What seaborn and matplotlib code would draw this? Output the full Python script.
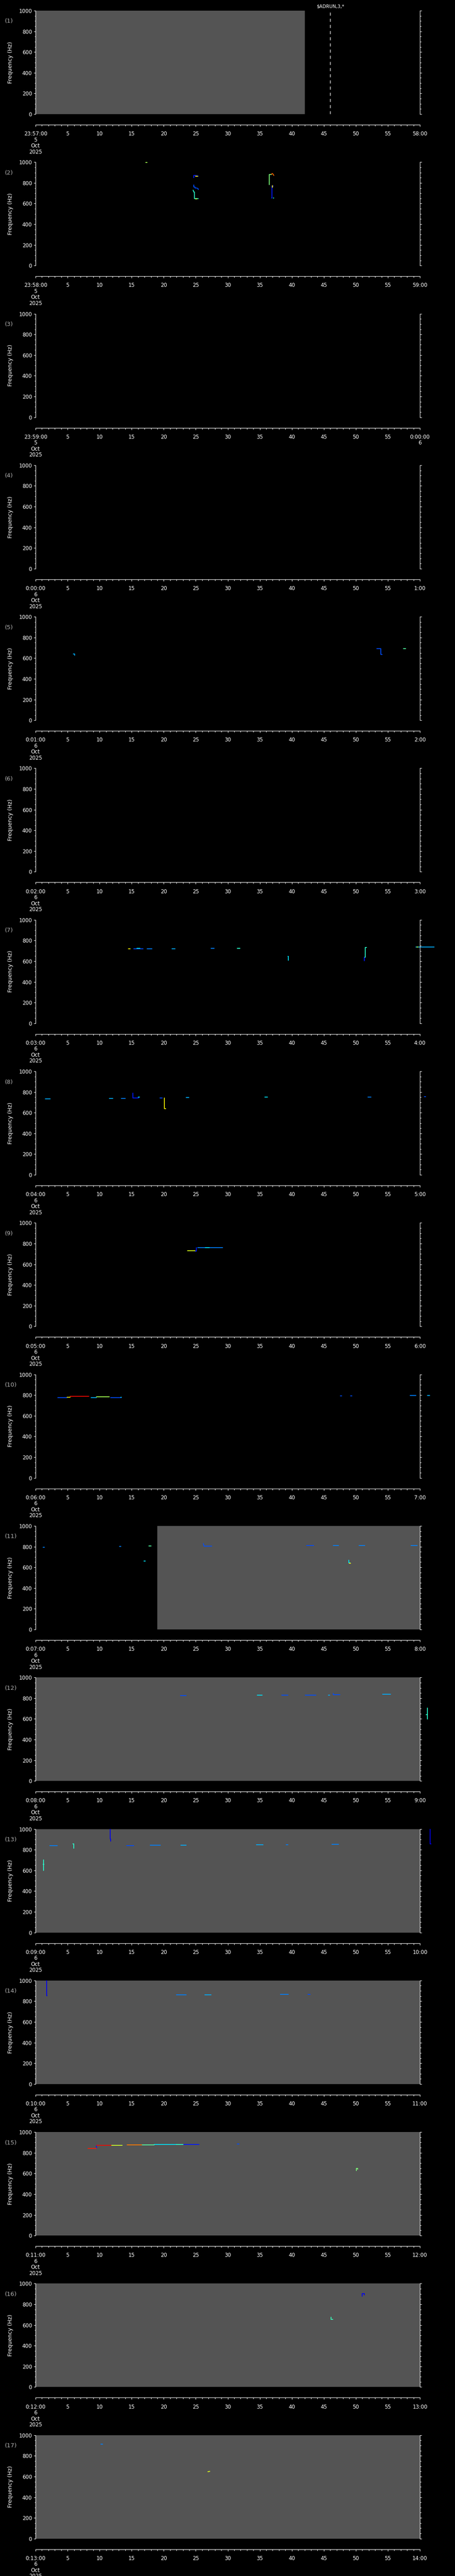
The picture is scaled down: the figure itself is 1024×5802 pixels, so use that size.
import numpy as np
import pandas as pd
import seaborn as sns
import matplotlib
matplotlib.use('Agg')
import matplotlib.pyplot as plt
from matplotlib.ticker import MultipleLocator

W, H = 1024, 5802
N_PANELS = 17
GRAY = '#545454'
PX = 72 / 100  # points per pixel at dpi 100

# x tick labels at the start / end of each one-minute panel
start_labels = ["23:57:00\n5\nOct\n2025", "23:58:00\n5\nOct\n2025", "23:59:00\n5\nOct\n2025",
                "0:00:00\n6\nOct\n2025", "0:01:00\n6\nOct\n2025", "0:02:00\n6\nOct\n2025",
                "0:03:00\n6\nOct\n2025", "0:04:00\n6\nOct\n2025", "0:05:00\n6\nOct\n2025",
                "0:06:00\n6\nOct\n2025", "0:07:00\n6\nOct\n2025", "0:08:00\n6\nOct\n2025",
                "0:09:00\n6\nOct\n2025", "0:10:00\n6\nOct\n2025", "0:11:00\n6\nOct\n2025",
                "0:12:00\n6\nOct\n2025", "0:13:00\n6\nOct\n2025"]
end_labels = ["58:00", "59:00", "0:00:00\n6", "1:00", "2:00", "3:00", "4:00", "5:00", "6:00",
              "7:00", "8:00", "9:00", "10:00", "11:00", "12:00", "13:00", "14:00"]

# no-data (gray) spans in seconds, per panel
gray_spans = {1: [(0, 42)], 11: [(19, 60)], 12: [(0, 60)], 13: [(0, 60)],
              14: [(0, 60)], 15: [(0, 60)], 16: [(0, 60)], 17: [(0, 60)]}

# event markers (seconds, label)
events = {1: [(46.0, r"\$ADRUN,3,*")]}

# detected tone traces: (seconds, frequency Hz, intensity 0..1)
traces_02 = [
    ([17.2, 17.4], [996, 996], 0.55),
    ([24.7, 24.7, 24.9, 25.4], [850, 872, 872, 865], 0.15),
    ([25.0, 25.3], [862, 862], 0.65),
    ([24.7, 24.7, 24.9, 24.9, 25.2, 25.4, 25.4], [780, 760, 760, 750, 750, 742, 735], 0.2),
    ([24.6, 24.7, 24.8, 24.8, 25.4], [730, 712, 712, 648, 648], 0.4),
    ([25.0, 25.2], [646, 646], 0.6),
    ([36.5, 36.5, 36.8], [782, 880, 880], 0.5),
    ([36.8, 37.0, 37.2], [885, 890, 872], 0.8),
    ([36.8, 36.9, 36.9, 37.1], [655, 655, 770, 770], 0.15),
    ([37.0, 37.0], [775, 755], 0.65),
    ([37.1, 37.2], [655, 655], 0.4),
]
traces_05 = [
    ([5.9, 6.1, 6.1], [642, 642, 628], 0.3),
    ([53.3, 53.9, 53.9, 54.1], [690, 690, 638, 638], 0.2),
    ([57.4, 57.8], [690, 690], 0.45),
]
traces_07 = [
    ([14.5, 14.8], [722, 722], 0.65),
    ([15.3, 16.8], [722, 722], 0.2),
    ([15.8, 16.3], [723, 723], 0.35),
    ([17.4, 18.2], [722, 722], 0.25),
    ([21.3, 21.8], [722, 722], 0.3),
    ([27.4, 27.9], [723, 723], 0.25),
    ([31.5, 31.9], [726, 726], 0.4),
    ([39.4, 39.5, 39.5], [645, 645, 610], 0.35),
    ([51.3, 51.3], [602, 640], 0.15),
    ([51.4, 51.5, 51.5, 51.7], [640, 640, 731, 731], 0.4),
    ([59.4, 62.2], [737, 737], 0.3),
    ([59.5, 59.7], [737, 737], 0.55),
]
traces_08 = [
    ([1.5, 2.3], [734, 734], 0.3),
    ([11.5, 12.1], [740, 740], 0.3),
    ([13.4, 14.0], [740, 740], 0.25),
    ([15.2, 15.2, 16.1], [789, 743, 743], 0.15),
    ([16.0, 16.2], [751, 751], 0.35),
    ([19.4, 19.8], [743, 743], 0.2),
    ([20.1, 20.1, 20.3], [743, 641, 641], 0.65),
    ([23.5, 23.9], [746, 746], 0.3),
    ([35.8, 36.2], [751, 751], 0.35),
    ([51.9, 52.4], [751, 751], 0.25),
    ([60.7, 60.9], [757, 757], 0.2),
]
traces_09 = [
    ([23.7, 24.9], [730, 730], 0.62),
    ([24.9, 25.1, 25.1], [728, 728, 762], 0.15),
    ([25.3, 29.2], [762, 762], 0.25),
    ([26.5, 27.1], [762, 762], 0.35),
]
traces_10 = [
    ([3.5, 4.9], [777, 777], 0.2),
    ([4.9, 5.4], [780, 780], 0.65),
    ([5.4, 8.3], [788, 788], 0.9),
    ([8.7, 9.5], [777, 777], 0.3),
    ([9.5, 11.5], [782, 782], 0.55),
    ([11.7, 13.4], [777, 777], 0.2),
    ([13.3, 13.4], [781, 781], 0.35),
    ([47.6, 47.8], [791, 791], 0.2),
    ([49.2, 49.4], [791, 791], 0.2),
    ([58.5, 59.4], [796, 796], 0.25),
    ([61.2, 61.5], [796, 796], 0.3),
]
traces_11 = [
    ([1.2, 1.4], [795, 795], 0.25),
    ([13.1, 13.3], [801, 801], 0.25),
    ([17.7, 18.0], [805, 805], 0.45),
    ([16.9, 17.1], [662, 662], 0.35),
    ([26.2, 26.3, 27.5], [830, 805, 805], 0.2),
    ([42.3, 43.4], [809, 809], 0.2),
    ([46.5, 47.3], [811, 811], 0.25),
    ([50.5, 51.4], [812, 812], 0.25),
    ([58.6, 59.6], [812, 812], 0.25),
    ([48.9, 48.9, 49.1], [670, 645, 645], 0.35),
    ([49.0, 49.2], [638, 638], 0.65),
]
traces_12 = [
    ([22.6, 23.5], [826, 826], 0.2),
    ([34.6, 35.4], [829, 829], 0.35),
    ([38.4, 39.4], [831, 831], 0.2),
    ([42.1, 43.8], [831, 831], 0.2),
    ([45.7, 45.9], [831, 831], 0.3),
    ([46.5, 46.5, 47.5], [846, 833, 833], 0.2),
    ([54.2, 55.4], [837, 837], 0.3),
    ([61.2, 61.2], [705, 597], 0.4),
    ([61.0, 61.2], [640, 640], 0.4),
]
traces_13 = [
    ([1.25, 1.25], [702, 598], 0.4),
    ([1.2, 1.35], [660, 660], 0.4),
    ([2.2, 3.4], [839, 839], 0.25),
    ([5.85, 5.95, 5.95], [856, 856, 812], 0.4),
    ([11.65, 11.65, 11.75, 11.75], [1000, 905, 905, 882], 0.1),
    ([14.2, 15.3], [841, 841], 0.2),
    ([17.9, 19.5], [844, 844], 0.25),
    ([22.7, 23.5], [844, 844], 0.3),
    ([34.5, 35.5], [847, 847], 0.3),
    ([39.1, 39.4], [847, 847], 0.25),
    ([46.3, 47.3], [853, 853], 0.25),
    ([61.6, 61.6, 61.7], [1000, 858, 858], 0.1),
]
traces_14 = [
    ([1.7, 1.7, 1.8], [1000, 855, 855], 0.1),
    ([22.0, 23.5], [861, 861], 0.25),
    ([26.4, 27.4], [861, 861], 0.3),
    ([38.2, 39.5], [866, 866], 0.25),
    ([42.5, 42.9], [866, 866], 0.2),
]
traces_15 = [
    ([8.2, 9.5], [842, 842], 0.88),
    ([9.5, 9.5], [842, 873], 0.15),
    ([9.5, 11.8], [873, 873], 0.9),
    ([11.8, 13.5], [873, 873], 0.6),
    ([14.3, 16.6], [877, 877], 0.78),
    ([16.6, 18.5], [877, 877], 0.45),
    ([18.5, 22.0], [879, 879], 0.35),
    ([22.0, 23.0], [881, 881], 0.4),
    ([23.0, 25.5], [879, 879], 0.15),
    ([31.5, 31.8], [885, 885], 0.2),
    ([50.1, 50.1, 50.3, 50.3], [625, 648, 648, 640], 0.5),
]
traces_16 = [
    ([51.0, 51.0, 51.3, 51.3], [876, 901, 901, 890], 0.1),
    ([46.1, 46.1, 46.4], [676, 654, 654], 0.42),
]
traces_17 = [
    ([10.2, 10.5], [913, 913], 0.25),
    ([26.9, 27.2], [646, 650], 0.62),
]

panel_traces = {2: traces_02, 5: traces_05, 7: traces_07, 8: traces_08, 9: traces_09,
                10: traces_10, 11: traces_11, 12: traces_12, 13: traces_13, 14: traces_14,
                15: traces_15, 16: traces_16, 17: traces_17}

rows = []
for p, traces in panel_traces.items():
    for k, (ts, fs, lev) in enumerate(traces):
        for t, f in zip(ts, fs):
            rows.append((p, f'{p}-{k}', t, f, lev))
df = pd.DataFrame(rows, columns=['panel', 'trace', 't', 'f', 'level'])

sns.set_theme(style='ticks', rc={'axes.facecolor': 'black', 'figure.facecolor': 'black',
                                 'axes.edgecolor': 'white', 'xtick.color': 'white',
                                 'ytick.color': 'white', 'text.color': 'white',
                                 'axes.labelcolor': 'white', 'lines.scale_dashes': False})
plt.rcParams['font.family'] = ['DejaVu Sans']

jet = matplotlib.colormaps['jet']
fig = plt.figure(figsize=(W / 100, H / 100), dpi=100)

for i in range(N_PANELS):
    p = i + 1
    top = i * H / N_PANELS
    ax = fig.add_axes([80 / W, 1 - (top + 257) / H, 865 / W, 233 / H])
    ax.set_facecolor('black')

    for a, b in gray_spans.get(p, []):
        ax.axvspan(a, b, color=GRAY, lw=0, zorder=0)

    sub = df[df['panel'] == p]
    if len(sub):
        sns.lineplot(data=sub, x='t', y='f', hue='level', palette=jet, hue_norm=(0, 1),
                     units='trace', estimator=None, sort=False, legend=False, lw=1.3, ax=ax)
        for ln in ax.lines:
            ln.set_clip_on(False)

    for t, lab in events.get(p, []):
        ax.axvline(t, color='white', lw=0.9, ls=(0, (5, 5)))
        ax.annotate(lab, xy=(t, 1000), xytext=(0, 3), textcoords='offset points',
                    ha='center', va='bottom', fontsize=7.5, color='white', annotation_clip=False)

    ax.set_xlim(0, 60)
    ax.set_ylim(0, 1000)

    ax.spines['top'].set_visible(False)
    ax.spines['bottom'].set_position(('outward', 24 * PX))
    for s in ['left', 'right', 'bottom']:
        ax.spines[s].set_color('white')
        ax.spines[s].set_linewidth(0.8)

    ax.set_xticks(range(0, 61, 5))
    ax.set_xticklabels([start_labels[i]] + [str(v) for v in range(5, 60, 5)] + [end_labels[i]])
    ax.xaxis.set_minor_locator(MultipleLocator(1))
    ax.set_yticks(range(0, 1001, 200))
    ax.yaxis.set_minor_locator(MultipleLocator(50))

    ax.tick_params(axis='both', which='major', direction='out', length=3.2, width=0.8,
                   colors='white', labelsize=8.5)
    ax.tick_params(axis='both', which='minor', direction='out', length=1.8, width=0.8,
                   colors='white')
    ax.tick_params(axis='y', which='both', left=True, right=True, labelright=False, pad=2.5)
    ax.tick_params(axis='x', which='both', bottom=True, top=False, pad=7)
    for lab in ax.get_xticklabels():
        lab.set_linespacing(1.05)

    ax.set_xlabel('')
    ax.set_ylabel('Frequency (Hz)', fontsize=9, color='white')
    ax.yaxis.set_label_coords((23 - 80) / 865, 0.5)
    ax.yaxis.label.set_va('center')

    fig.text(11 / W, 1 - (top + 48) / H, f'({p})', ha='left', va='center',
             fontsize=9.5, color='#b0b0b0')

fig.savefig('out.png', dpi=100, facecolor='black')
